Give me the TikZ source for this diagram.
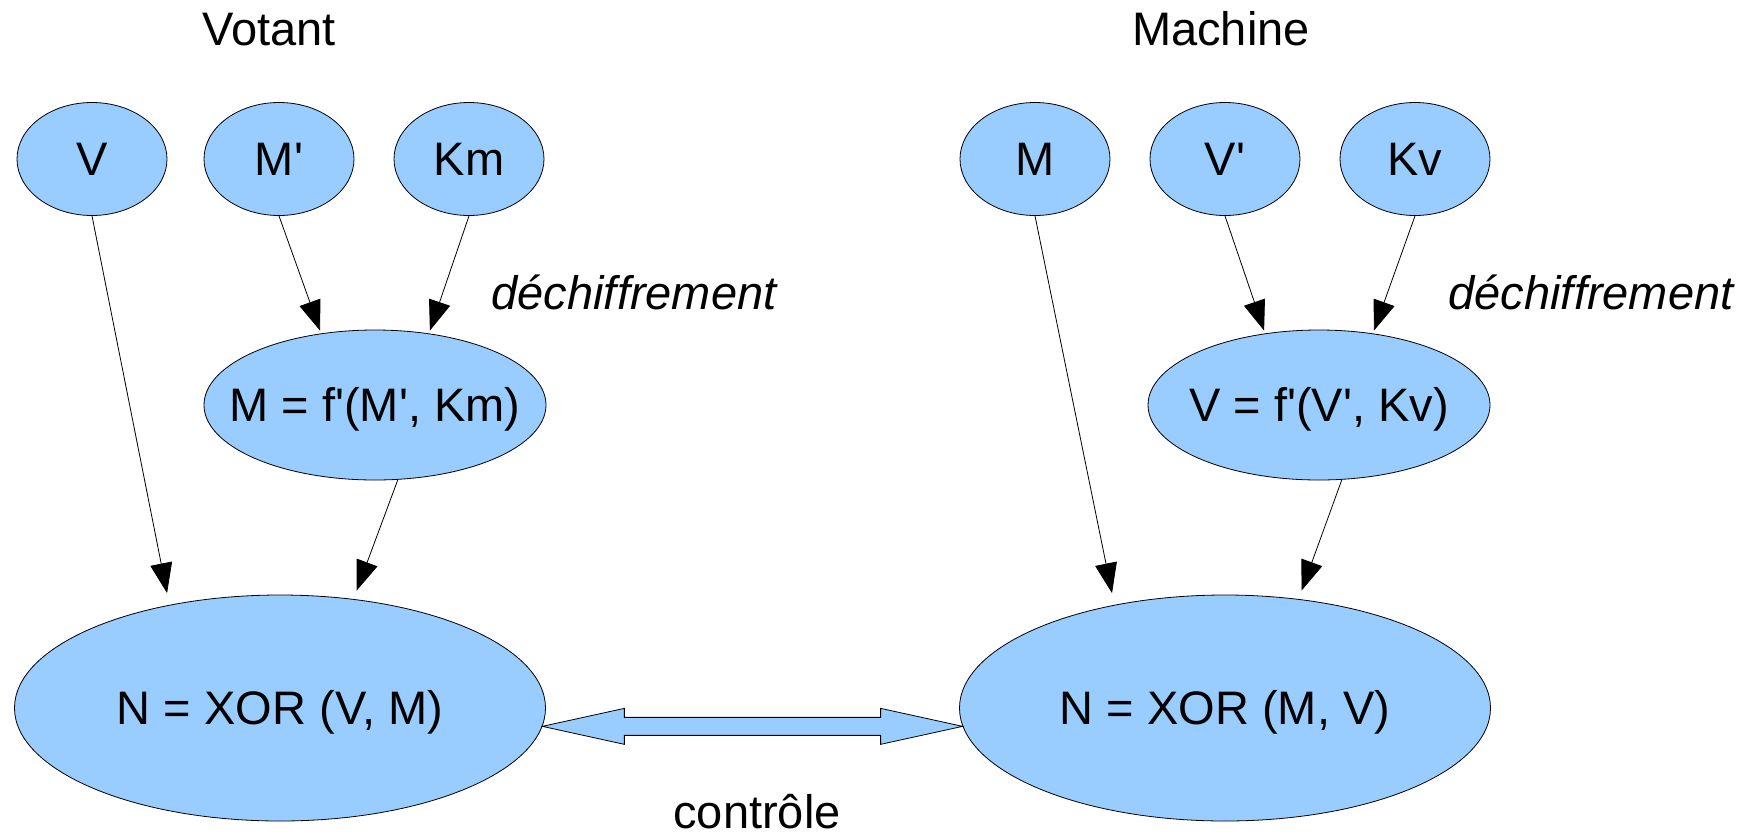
\documentclass[tikz,border=0pt]{standalone}
\usepackage{fontspec}
\setmainfont{Liberation Sans}
\usetikzlibrary{arrows.meta,calc,shapes.geometric}
\definecolor{bubble}{HTML}{99CCFF}
% zero-size label, capitals centred on the node centre, so the ellipse keeps its set size
\newcommand\lbl[1]{\makebox[0pt][c]{\raisebox{-0.358em}[0pt][0pt]{#1}}}
\newcommand\pr{\textquotesingle}
\begin{document}
\begin{tikzpicture}[x=1pt,y=-1pt,
  every node/.style={font=\fontsize{47}{54}\selectfont},
  bub/.style={ellipse, draw=black, line width=0.8pt, fill=bubble, inner sep=0pt},
  small/.style={bub, minimum width=150pt, minimum height=113pt},
  mid/.style={bub, minimum width=342pt, minimum height=150pt},
  big/.style={bub, minimum width=531pt, minimum height=226pt},
  link/.style={draw=black, line width=0.8pt, -{Triangle[length=30pt,width=22pt]}, shorten >=3pt},
  note/.style={font=\fontsize{47}{54}\selectfont\itshape}]
\useasboundingbox (0,0) rectangle (1759,839);

% left column: voter side
\node[anchor=base] at (269,45) (tV) {Votant};
\node[small] (V)  at (92,159)  {\lbl{V}};
\node[small] (Mp) at (279,159) {\lbl{M\pr}};
\node[small] (Km) at (469,159) {\lbl{Km}};
\node[mid]   (fM) at (375,405) {\lbl{M = f\pr(M\pr, Km)}};
\node[big]   (NL) at (280,708) {\lbl{N = XOR (V, M)}};
\node[note]  (dL) at (634,292) {déchiffrement};

% right column: machine side
\node[anchor=base] at (1221,45) (tM) {Machine};
\node[small] (M)  at (1035,159) {\lbl{M}};
\node[small] (Vp) at (1225,159) {\lbl{V\pr}};
\node[small] (Kv) at (1415,159) {\lbl{Kv}};
\node[mid]   (fV) at (1319,405) {\lbl{V = f\pr(V\pr, Kv)}};
\node[big]   (NR) at (1225,708) {\lbl{N = XOR (M, V)}};
\node[note]  (dR) at (1591,292) {déchiffrement};

\node[anchor=base, inner sep=0pt] (ctl) at (757,828) {contrôle};

% connectors
\draw[link, shorten >=12pt] (V.south) -- (NL.137);
\draw[link] (Mp.south) -- (fM.127);
\draw[link] (Km.south) -- (fM.53);
\draw[link, shorten >=9pt] (fM.-73) -- (NL.56);

\draw[link, shorten >=12pt] (M.south) -- (NR.137);
\draw[link] (Vp.south) -- (fV.127);
\draw[link] (Kv.south) -- (fV.53);
\draw[link, shorten >=9pt] (fV.-73) -- (NR.56);

% two-headed block arrow between the two checks
\coordinate (a) at (NL.-4.8);
\coordinate (b) at (NR.184.8);
\draw[line width=0.8pt, fill=bubble]
  (a) -- ($(a)+(82,-18)$) -- ($(a)+(82,-9)$) -- ($(b)+(-82,-9)$) -- ($(b)+(-82,-18)$)
  -- (b) -- ($(b)+(-82,18)$) -- ($(b)+(-82,9)$) -- ($(a)+(82,9)$) -- ($(a)+(82,18)$) -- cycle;
\end{tikzpicture}
\end{document}
